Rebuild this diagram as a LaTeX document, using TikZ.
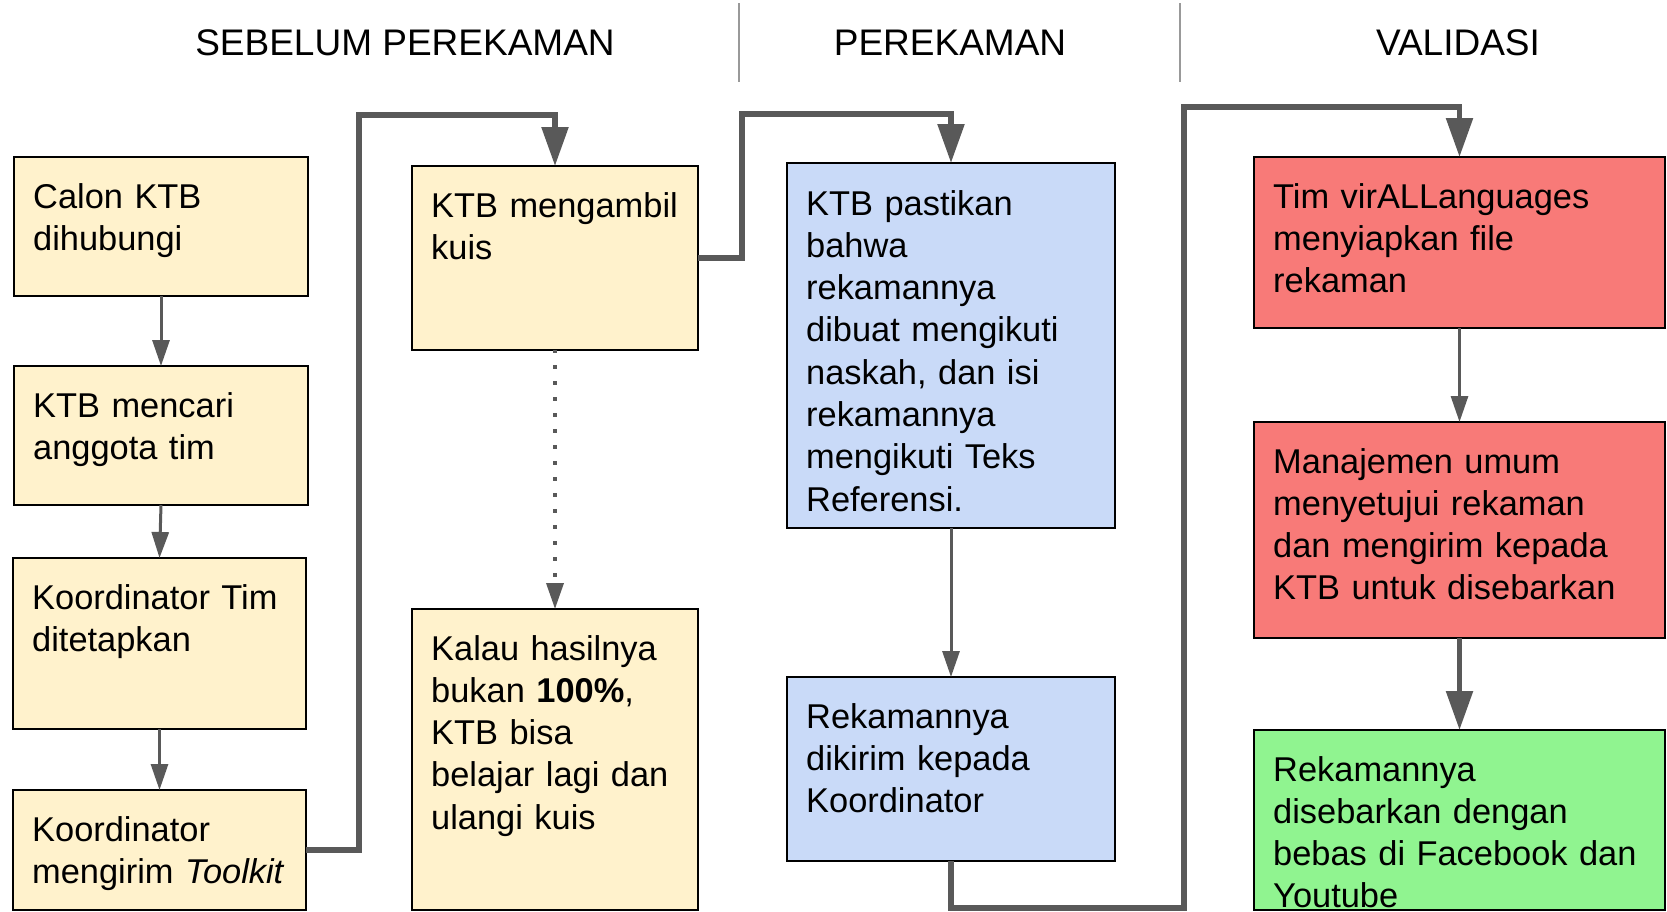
\documentclass[tikz,border=0pt]{standalone}
\usepackage{fontspec}
\setmainfont{Liberation Sans}
\usetikzlibrary{arrows.meta}
\definecolor{boxyellow}{HTML}{FFF2CC}
\definecolor{boxblue}{HTML}{C9DAF8}
\definecolor{boxred}{HTML}{F87A78}
\definecolor{boxgreen}{HTML}{90F490}
\definecolor{linegray}{HTML}{595959}
\definecolor{divgray}{HTML}{999999}
\tikzset{
  flowbox/.style={draw=black, line width=2pt, anchor=north west, outer sep=0pt, inner sep=0pt},
  boxtext/.style={anchor=base west, inner sep=0pt, text width=420pt, align=left, font=\fontsize{34.4}{42.3}\selectfont},
  headtext/.style={anchor=base, inner sep=0pt, font=\fontsize{37}{44}\selectfont},
  divider/.style={draw=divgray, line width=1.5pt},
  thinarrow/.style={draw=linegray, line width=3pt, -{Triangle[length=26pt,width=17pt]}},
  thickarrow/.style={draw=linegray, line width=5.5pt, -{Triangle[length=39pt,width=26pt]}},
  dotarrow/.style={thinarrow, line width=3.5pt, dash pattern=on 4pt off 12pt, dash phase=1pt},
}
\begin{document}
\begin{tikzpicture}[x=1pt,y=-1pt]
\useasboundingbox (0,0) rectangle (1667,911);

% headers
\node[headtext] (h1) at (405,55) {SEBELUM PEREKAMAN};
\node[headtext] (h2) at (950,55) {PEREKAMAN};
\node[headtext] (h3) at (1458,55) {VALIDASI};
\draw[divider] (739,3) -- (739,82);
\draw[divider] (1180,3) -- (1180,82);

% boxes
\node[flowbox, fill=boxyellow, minimum width=294pt, minimum height=139pt] (a) at (14,157) {};
\node[flowbox, fill=boxyellow, minimum width=294pt, minimum height=139pt] (b) at (14,366) {};
\node[flowbox, fill=boxyellow, minimum width=293pt, minimum height=171pt] (c) at (13,558) {};
\node[flowbox, fill=boxyellow, minimum width=293pt, minimum height=120pt] (d) at (13,790) {};
\node[flowbox, fill=boxyellow, minimum width=286pt, minimum height=184pt] (e) at (412,166) {};
\node[flowbox, fill=boxyellow, minimum width=286pt, minimum height=301pt] (f) at (412,609) {};
\node[flowbox, fill=boxblue, minimum width=328pt, minimum height=365pt] (g) at (787,163) {};
\node[flowbox, fill=boxblue, minimum width=328pt, minimum height=184pt] (h) at (787,677) {};
\node[flowbox, fill=boxred, minimum width=411pt, minimum height=171pt] (i) at (1254,157) {};
\node[flowbox, fill=boxred, minimum width=411pt, minimum height=216pt] (j) at (1254,422) {};
\node[flowbox, fill=boxgreen, minimum width=411pt, minimum height=180pt] (k) at (1254,730) {};

% texts
\node[boxtext] (ta) at ([shift={(19,51)}]a.north west) {Calon KTB\\dihubungi};
\node[boxtext] (tb) at ([shift={(19,51)}]b.north west) {KTB mencari\\anggota tim};
\node[boxtext] (tc) at ([shift={(19,51)}]c.north west) {Koordinator Tim\\ditetapkan};
\node[boxtext] (td) at ([shift={(19,51)}]d.north west) {Koordinator\\mengirim \textit{Toolkit}};
\node[boxtext] (te) at ([shift={(19,51)}]e.north west) {KTB mengambil\\kuis};
\node[boxtext] (tf) at ([shift={(19,51)}]f.north west) {Kalau hasilnya\\bukan \textbf{100\%},\\KTB bisa\\belajar lagi dan\\ulangi kuis};
\node[boxtext] (tg) at ([shift={(19,52)}]g.north west) {KTB pastikan\\bahwa\\rekamannya\\dibuat mengikuti\\naskah, dan isi\\rekamannya\\mengikuti Teks\\Referensi.};
\node[boxtext] (th) at ([shift={(19,51)}]h.north west) {Rekamannya\\dikirim kepada\\Koordinator};
\node[boxtext] (ti) at ([shift={(19,51)}]i.north west) {Tim virALLanguages\\menyiapkan file\\rekaman};
\node[boxtext] (tj) at ([shift={(19,51)}]j.north west) {Manajemen umum\\menyetujui rekaman\\dan mengirim kepada\\KTB untuk disebarkan};
\node[boxtext] (tk) at ([shift={(19,51)}]k.north west) {Rekamannya\\disebarkan dengan\\bebas di Facebook dan\\Youtube};

% connectors
\draw[thinarrow] (a.south) -- (b.north);
\draw[thinarrow] (b.south) -- (c.north);
\draw[thinarrow] (c.south) -- (d.north);
\draw[thickarrow] (d.east) -| (359,115) -| (e.north);
\draw[dotarrow] (e.south) -- (f.north);
\draw[thickarrow] (e.east) -| (742,114) -| (g.north);
\draw[thinarrow] (g.south) -- (h.north);
\draw[thickarrow] (h.south) |- (1184,908) -- (1184,107) -| (i.north);
\draw[thinarrow] (i.south) -- (j.north);
\draw[thickarrow] (j.south) -- (k.north);
\end{tikzpicture}
\end{document}
